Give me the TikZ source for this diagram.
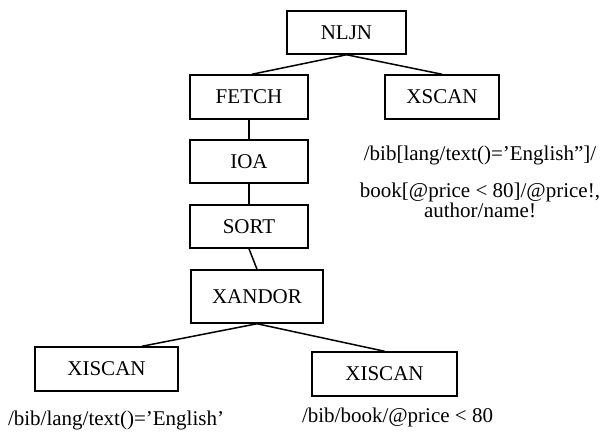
\documentclass[tikz,border=0pt]{standalone}
\usepackage{fontspec}
\setmainfont{Liberation Serif}
\begin{document}
\begin{tikzpicture}[x=1pt,y=-1pt,
  opbox/.style={draw,line width=1.5pt,inner sep=0pt,font=\fontsize{21}{24}\selectfont},
  conn/.style={line width=1.5pt},
  lbl/.style={inner sep=0pt,font=\fontsize{21}{24}\selectfont,align=center}]
\useasboundingbox (0,0) rectangle (603,432);
\node[opbox,minimum width=119pt,minimum height=43pt] (nljn) at (346.5,32.5) {NLJN};
\node[opbox,minimum width=118pt,minimum height=44pt] (fetch) at (249,97) {FETCH};
\node[opbox,minimum width=114pt,minimum height=44pt] (xscan) at (442,97) {XSCAN};
\node[opbox,minimum width=118pt,minimum height=43pt] (ioa) at (249,161.5) {IOA};
\node[opbox,minimum width=118pt,minimum height=43pt] (sort) at (249,226.5) {SORT};
\node[opbox,minimum width=132pt,minimum height=53pt] (xandor) at (257,296.5) {XANDOR};
\node[opbox,minimum width=143pt,minimum height=44pt] (xis1) at (106.5,369) {\raisebox{-3pt}{XISCAN}\hspace{25pt}};
\node[opbox,minimum width=145pt,minimum height=44pt] (xis2) at (384.5,374) {\raisebox{-3pt}{XISCAN}\hspace{25pt}};
\draw[conn] (nljn.south) -- ([xshift=3pt]fetch.north);
\draw[conn] (nljn.south) -- (xscan.north);
\draw[conn] (fetch) -- (ioa);
\draw[conn] (ioa) -- (sort);
\draw[conn] (sort.south) -- (xandor.north);
\draw[conn] (xandor.south) -- ([xshift=35.5pt]xis1.north);
\draw[conn] (xandor.south) -- (xis2.north);
\node[lbl] (l0) at (480,155) {/bib[lang/text()=’English”]/};
\node[lbl] (l1) at (480,200) {book[@price < 80]/@price!,\\[-4pt]author/name!};
\node[lbl] (l2) at (116,420) {/bib/lang/text()=’English’};
\node[lbl] (l3) at (397.5,417) {/bib/book/@price < 80};
\end{tikzpicture}
\end{document}
